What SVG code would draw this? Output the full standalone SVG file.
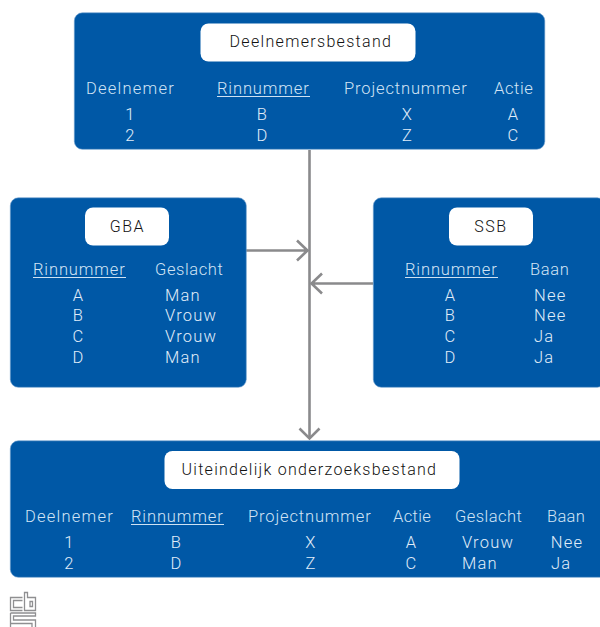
<svg xmlns="http://www.w3.org/2000/svg" width="600" height="627" viewBox="0 0 600 627">
<style>
.box{fill:#0058a6;stroke:#6f9fcf;stroke-width:.6}
.pill{fill:#fff}
text{font-family:Roboto,"Noto Sans","Liberation Sans",sans-serif;font-size:16.500px;font-weight:300;letter-spacing:1.200px}
.h{fill:#d2e4f5}
.d{fill:#e0edf9;text-anchor:middle}
.l{fill:#e0edf9}
.t{fill:#111;text-anchor:middle;font-size:16px;letter-spacing:1.500px}
.u{stroke:#cfe2f3;stroke-width:1;fill:none}
.c{stroke:#8a8a8c;stroke-width:2.6;fill:none}
.logo{stroke:#8f8f91;stroke-width:1.3;fill:none}
</style>
<g id="connectors">
<path class="c" d="M309.500 150V438"/>
<path class="c" d="M246 250.500H307M297 240.500L307.500 250.500L297 260.500"/>
<path class="c" d="M373 283.500H312M322 273.500L311.500 283.500L322 293.500"/>
<path class="c" d="M299.500 428.500L309.500 438.500L319.500 428.500"/>
</g>
<g id="deelnemersbestand">
<rect class="box" x="74.300" y="12.800" width="470.500" height="136.500" rx="8"/>
<rect class="pill" x="200.500" y="23.500" width="215" height="38" rx="8"/>
<text class="t" x="311" y="47" textLength="163">Deelnemersbestand</text>
<text class="h" x="86" y="94" textLength="89">Deelnemer</text>
<text class="h" x="217" y="94" textLength="93">Rinnummer</text>
<path class="u" d="M217 96.500H310"/>
<text class="h" x="344" y="94" textLength="124">Projectnummer</text>
<text class="h" x="494" y="94" textLength="40">Actie</text>
<text class="d" x="130.500" y="119.500">1</text><text class="d" x="262.500" y="119.500">B</text><text class="d" x="407.500" y="119.500">X</text><text class="d" x="513.500" y="119.500">A</text>
<text class="d" x="130.500" y="140.500">2</text><text class="d" x="262.500" y="140.500">D</text><text class="d" x="407.500" y="140.500">Z</text><text class="d" x="513.500" y="140.500">C</text>
</g>
<g id="gba">
<rect class="box" x="10.300" y="197.800" width="236" height="189.500" rx="8"/>
<rect class="pill" x="85" y="207.500" width="84" height="38" rx="8"/>
<text class="t" x="127.500" y="232">GBA</text>
<text class="h" x="33" y="275" textLength="93">Rinnummer</text>
<path class="u" d="M33 277.500H126"/>
<text class="h" x="155" y="275" textLength="69">Geslacht</text>
<text class="d" x="78.500" y="300.500">A</text><text class="d" x="78.500" y="320.500">B</text><text class="d" x="78.500" y="341.500">C</text><text class="d" x="78.500" y="362.500">D</text>
<text class="l" x="165" y="300.500">Man</text><text class="l" x="165" y="320.500">Vrouw</text><text class="l" x="165" y="341.500">Vrouw</text><text class="l" x="165" y="362.500">Man</text>
</g>
<g id="ssb">
<rect class="box" x="373.300" y="197.800" width="232" height="189.500" rx="8"/>
<rect class="pill" x="449" y="207.500" width="84" height="38" rx="8"/>
<text class="t" x="491" y="232">SSB</text>
<text class="h" x="405" y="275" textLength="93">Rinnummer</text>
<path class="u" d="M405 277.500H498"/>
<text class="h" x="530" y="275" textLength="40">Baan</text>
<text class="d" x="450.500" y="300.500">A</text><text class="d" x="450.500" y="320.500">B</text><text class="d" x="450.500" y="341.500">C</text><text class="d" x="450.500" y="362.500">D</text>
<text class="l" x="534" y="300.500">Nee</text><text class="l" x="534" y="320.500">Nee</text><text class="l" x="534" y="341.500">Ja</text><text class="l" x="534" y="362.500">Ja</text>
</g>
<g id="onderzoeksbestand">
<rect class="box" x="10.300" y="440.800" width="600" height="136.500" rx="8"/>
<rect class="pill" x="164.500" y="451" width="295" height="38" rx="8"/>
<text class="t" x="309.500" y="475" textLength="256">Uiteindelijk onderzoeksbestand</text>
<text class="h" x="25" y="522" textLength="89">Deelnemer</text>
<text class="h" x="131" y="522" textLength="93">Rinnummer</text>
<path class="u" d="M131 524.500H224"/>
<text class="h" x="248" y="522" textLength="124">Projectnummer</text>
<text class="h" x="393" y="522" textLength="39">Actie</text>
<text class="h" x="455" y="522" textLength="68">Geslacht</text>
<text class="h" x="547" y="522" textLength="39">Baan</text>
<text class="d" x="69.500" y="547.500">1</text><text class="d" x="176.500" y="547.500">B</text><text class="d" x="311" y="547.500">X</text><text class="d" x="411.500" y="547.500">A</text><text class="d" x="488" y="547.500">Vrouw</text><text class="d" x="567" y="547.500">Nee</text>
<text class="d" x="69.500" y="568.500">2</text><text class="d" x="176.500" y="568.500">D</text><text class="d" x="311" y="568.500">Z</text><text class="d" x="411.500" y="568.500">C</text><text class="l" x="462" y="568.500">Man</text><text class="l" x="551" y="568.500">Ja</text>
</g>
<g id="logo">
<path class="logo" d="M22.500 597.500H10.500V610.500H22.500M22.500 600.500H13.500V607.500H22.500"/>
<path class="logo" d="M24.500 592.500V610.500H35.500V597.500H27.500V592.500ZM30 601.500H32.500V606.500H30Z"/>
<path class="logo" d="M10.500 613H35.500V616H13.500V620H35.500V627M10.500 613V623.500H32V627M10.500 623.500V627"/>
</g>
</svg>
